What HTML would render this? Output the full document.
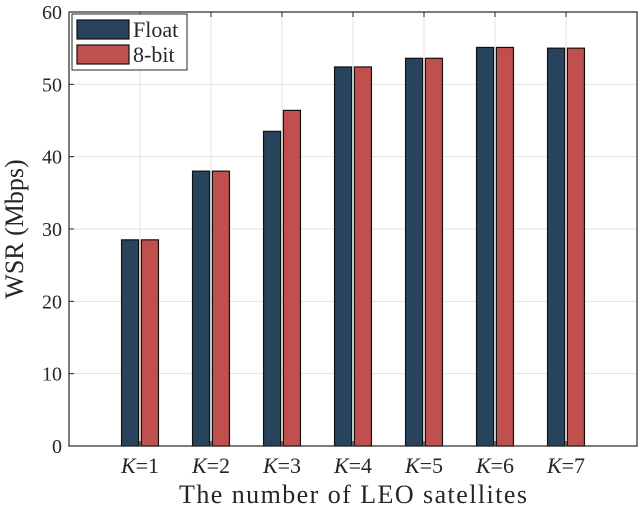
<!DOCTYPE html>
<html><head><meta charset="utf-8"><style>
body{margin:0;background:#fff;}
svg text{font-family:"Liberation Serif",serif;fill:#262626;}
</style></head><body>
<svg id="c" width="638" height="510" xmlns="http://www.w3.org/2000/svg"></svg>
<script>
const categories=["1","2","3","4","5","6","7"];
const floatVals=[28.5,38.0,43.5,52.4,53.6,55.1,55.0];
const bitVals=[28.5,38.0,46.4,52.4,53.6,55.1,55.0];
const yTicks=[0,10,20,30,40,50,60];
const NS="http://www.w3.org/2000/svg";
const svg=document.getElementById('c');
const L=69,R=637,T=12,B=446;
const xs=v=>L+(v/8)*(R-L);
const ys=v=>B-(v/60)*(B-T);
function mk(tag,at,par){const e=document.createElementNS(NS,tag);for(const k in at)e.setAttribute(k,at[k]);(par||svg).appendChild(e);return e;}
mk('rect',{x:L,y:T,width:R-L,height:B-T,fill:'#fff'});
yTicks.forEach(t=>{const g=mk('line',{x1:L,x2:R,y1:ys(t),y2:ys(t),stroke:'#e3e3e3','stroke-width':1});

});
categories.forEach((c,i)=>{const g=mk('line',{x1:xs(i+1),x2:xs(i+1),y1:T,y2:B,stroke:'#e3e3e3','stroke-width':1});

});
const bw=0.24,gap=0.02;
categories.forEach((c,i)=>{
 const x=i+1;
 const r1=mk('rect',{x:xs(x-gap-bw),y:ys(floatVals[i]),width:xs(bw)-xs(0),height:ys(0)-ys(floatVals[i]),fill:'#27445c',stroke:'#111','stroke-width':1.2});
 
 
 const r2=mk('rect',{x:xs(x+gap),y:ys(bitVals[i]),width:xs(bw)-xs(0),height:ys(0)-ys(bitVals[i]),fill:'#c0504d',stroke:'#111','stroke-width':1.2});
 
 
});
mk('rect',{x:L,y:T,width:R-L,height:B-T,fill:'none',stroke:'#262626','stroke-width':1.2});
yTicks.forEach(t=>{
 mk('line',{x1:L,x2:L+5,y1:ys(t),y2:ys(t),stroke:'#262626'});
 const tx=mk('text',{x:L-7,y:ys(t)+7,'text-anchor':'end','font-size':20});
 tx.textContent=t;
 
 
});
categories.forEach((c,i)=>{
 mk('line',{x1:xs(i+1),x2:xs(i+1),y1:B,y2:B-5,stroke:'#262626'});
 mk('line',{x1:xs(i+1),x2:xs(i+1),y1:T,y2:T+5,stroke:'#262626'});
 const tx=mk('text',{x:xs(i+1),y:473,'text-anchor':'middle','font-size':22});
 tx.innerHTML='<tspan font-style="italic">K</tspan>='+c;
 
 
});
const xt=mk('text',{x:353,y:503,'text-anchor':'middle','font-size':26});
xt.setAttribute('textLength','348');
xt.textContent='The number of LEO satellites';


const yt=mk('text',{x:0,y:0,'text-anchor':'middle','font-size':26,transform:'translate(23,229) rotate(-90)'});
yt.textContent='WSR (Mbps)';


const lg=mk('g',{});


mk('rect',{x:72,y:14,width:115,height:56,fill:'#fff',stroke:'#262626','stroke-width':1},lg);
mk('rect',{x:77,y:20,width:52,height:19,fill:'#27445c',stroke:'#111','stroke-width':1.2},lg);
mk('rect',{x:77,y:45,width:52,height:19,fill:'#c0504d',stroke:'#111','stroke-width':1.2},lg);
const l1=mk('text',{x:133,y:37,'font-size':22},lg);l1.textContent='Float';


const l2=mk('text',{x:133,y:62,'font-size':22},lg);l2.textContent='8-bit';


</script>
</body></html>
